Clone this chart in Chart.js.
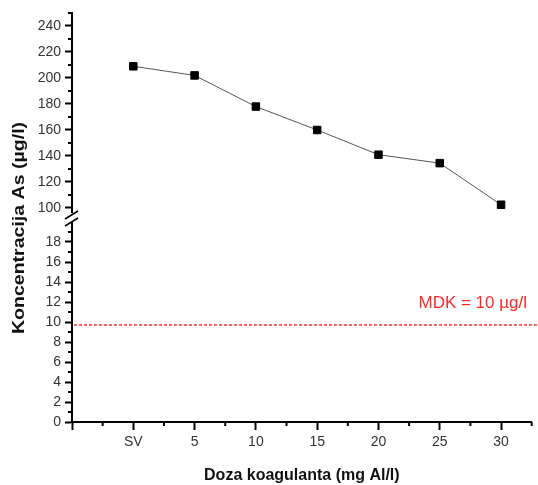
<!DOCTYPE html>
<html>
<head>
<meta charset="utf-8">
<script src="https://cdn.jsdelivr.net/npm/chart.js@4.4.0/dist/chart.umd.min.js"></script>
<style>
  html, body { margin: 0; padding: 0; background: #fff; }
  #wrap { width: 538px; height: 485px; position: relative; }
</style>
</head>
<body>
<div id="wrap"><canvas id="c"></canvas></div>
<script>
// data
const doses = [0, 5, 10, 15, 20, 25, 30];
const doseLabels = ['SV', '5', '10', '15', '20', '25', '30'];
const arsenic = [209, 202, 178, 160, 141, 134.5, 102.5];
const upperTicks = [100, 120, 140, 160, 180, 200, 220, 240];
const lowerTicks = [0, 2, 4, 6, 8, 10, 12, 14, 16, 18];
const xTicks = [-5, 0, 5, 10, 15, 20, 25, 30];
const mdkValue = 9.7;
const mdkLabel = 'MDK = 10 µg/l';

const fam = 'Arial, "Liberation Sans", sans-serif';
const tickFont = { family: fam, size: 14 };

// minor ticks, axis break, MDK line and y title
const extras = {
  id: 'extras',
  afterDraw(chart) {
    const { ctx, chartArea } = chart;
    const x = chart.scales.x, yt = chart.scales.yTop, yb = chart.scales.yBot;
    const left = chartArea.left, bottom = chartArea.bottom;

    // MDK dashed line, dashes as small filled boxes
    const my = Math.round(yb.getPixelForValue(mdkValue));
    ctx.save();
    ctx.fillStyle = '#ff6262';
    for (let px = left + 2; px < chart.width; px += 5) {
      ctx.fillRect(px, my - 1, 3, 2);
    }
    ctx.fillStyle = '#ff2a2a';
    ctx.font = '17px ' + fam;
    ctx.textAlign = 'right';
    ctx.textBaseline = 'alphabetic';
    ctx.fillText(mdkLabel, chart.width - 11, my - 17);
    ctx.restore();

    ctx.save();
    ctx.strokeStyle = '#000';
    ctx.lineWidth = 2;
    ctx.beginPath();
    upperTicks.forEach(v => {
      const m = v + 10;
      if (m <= yt.max) { const p = yt.getPixelForValue(m); ctx.moveTo(left - 4, p); ctx.lineTo(left, p); }
    });
    lowerTicks.forEach(v => {
      const m = v + 1;
      if (m <= yb.max) { const p = yb.getPixelForValue(m); ctx.moveTo(left - 4, p); ctx.lineTo(left, p); }
    });
    xTicks.forEach(v => {
      const m = v + 2.5;
      if (m <= x.max) { const p = x.getPixelForValue(m); ctx.moveTo(p, bottom); ctx.lineTo(p, bottom + 4); }
    });
    ctx.stroke();

    // axis break
    const b = yt.bottom;
    ctx.fillStyle = '#fff';
    ctx.fillRect(left - 3, b - 5, 6, 9);
    ctx.lineWidth = 1.5;
    ctx.beginPath();
    ctx.moveTo(left - 7, b + 1); ctx.lineTo(left + 6, b - 7);
    ctx.moveTo(left - 7, b + 8); ctx.lineTo(left + 6, b);
    ctx.stroke();

    // y title
    ctx.translate(19, 228);
    ctx.rotate(-Math.PI / 2);
    ctx.scale(1.15, 1);
    ctx.fillStyle = '#111';
    ctx.font = 'bold 17px ' + fam;
    ctx.textAlign = 'center';
    ctx.textBaseline = 'middle';
    ctx.fillText('Koncentracija As (µg/l)', 0, 0);
    ctx.restore();
  }
};

const yCommon = {
  type: 'linear',
  position: 'left',
  stack: 'y',
  afterFit: s => { s.width = 72; },
  grid: { drawOnChartArea: false, tickLength: 7, tickWidth: 2, tickColor: '#000' },
  border: { color: '#000', width: 2 },
  ticks: { font: tickFont, color: '#333', padding: 4, autoSkip: false }
};

new Chart(document.getElementById('c'), {
  type: 'line',
  data: {
    datasets: [{
      data: doses.map((d, i) => ({ x: d, y: arsenic[i] })),
      yAxisID: 'yTop',
      borderColor: '#555',
      borderWidth: 1,
      pointStyle: 'rect',
      pointRadius: 5.3,
      pointBackgroundColor: '#000',
      pointBorderColor: '#000',
      pointBorderWidth: 1,
      tension: 0
    }]
  },
  options: {
    responsive: true,
    maintainAspectRatio: false,
    animation: false,
    layout: { padding: { left: 0, top: 13, right: 3, bottom: 0 } },
    plugins: { legend: { display: false }, tooltip: { enabled: false } },
    scales: {
      x: {
        type: 'linear', min: -5, max: 32.5,
        afterBuildTicks: s => { s.ticks = xTicks.map(v => ({ value: v })); },
        afterFit: s => { s.height = 63; },
        grid: { drawOnChartArea: false, tickLength: 8, tickWidth: 2, tickColor: '#000' },
        border: { color: '#000', width: 2 },
        ticks: {
          font: tickFont, color: '#333', padding: 4, maxRotation: 0, autoSkip: false,
          callback: v => { const i = doses.indexOf(v); return i < 0 ? '' : doseLabels[i]; }
        },
        title: { display: true, text: 'Doza koagulanta (mg Al/l)', color: '#111', font: { family: fam, size: 16, weight: 'bold' }, padding: { top: 0, bottom: 0 } }
      },
      // stacked axes: the one listed last sits on top
      yBot: {
        ...yCommon,
        stackWeight: 204,
        min: 0, max: 20.4,
        afterBuildTicks: s => { s.ticks = lowerTicks.map(v => ({ value: v })); }
      },
      yTop: {
        ...yCommon,
        stackWeight: 205,
        min: 92.3, max: 250,
        afterBuildTicks: s => { s.ticks = upperTicks.map(v => ({ value: v })); }
      }
    }
  },
  plugins: [extras]
});
</script>
</body>
</html>
